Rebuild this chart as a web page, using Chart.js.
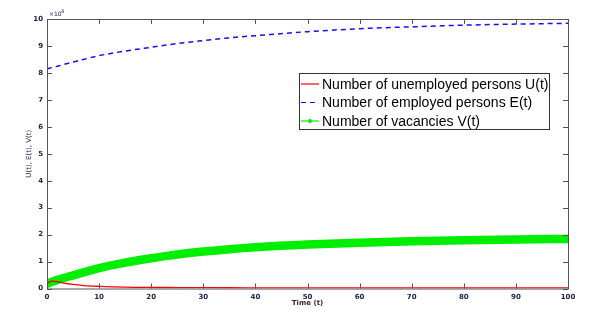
<!DOCTYPE html>
<html><head><meta charset="utf-8">
<script src="https://cdn.jsdelivr.net/npm/chart.js@4/dist/chart.umd.min.js"></script>
<style>html,body{margin:0;padding:0;background:#fff}#wrap{width:593px;height:319px}</style>
</head><body><div id="wrap"><canvas id="c" width="593" height="319"></canvas></div>
<script>
const timePoints = [0,1,2,3,5,7,10,15,20,25,30,35,40,50,60,70,80,90,100];
const unemployed = [0.20,0.27,0.25,0.21,0.15,0.11,0.08,0.05,0.04,0.035,0.03,0.027,0.025,0.022,0.02,0.02,0.02,0.02,0.02];
const employed   = [8.15,8.20,8.25,8.30,8.40,8.50,8.64,8.81,8.95,9.09,9.20,9.30,9.38,9.53,9.64,9.71,9.77,9.81,9.84];
const vacancies  = [0.17,0.25,0.32,0.38,0.49,0.60,0.76,0.96,1.12,1.26,1.37,1.46,1.53,1.63,1.70,1.75,1.79,1.82,1.84];
const xTicks = [0,10,20,30,40,50,60,70,80,90,100];
const yTicks = [0,1,2,3,4,5,6,7,8,9,10];
const labels = ['Number of unemployed persons U(t)','Number of employed persons E(t)','Number of vacancies V(t)'];

const pts = arr => arr.map((v,i)=>({x:timePoints[i], y:v}));
const tickColor = '#22224a';
const tickFont = {family:'DejaVu Sans', size:7, weight:'bold'};

const boxPlugin = {
  id:'box',
  afterDraw(chart){
    const {ctx, chartArea:a, scales:{x,y}} = chart;
    ctx.save();
    ctx.strokeStyle = '#555';
    ctx.lineWidth = 1;
    ctx.strokeRect(a.left+0.5, a.top+0.5, a.right-a.left, a.bottom-a.top);
    ctx.beginPath();
    xTicks.forEach(t=>{
      const px = Math.round(x.getPixelForValue(t))+0.5;
      ctx.moveTo(px,a.bottom); ctx.lineTo(px,a.bottom-5);
      ctx.moveTo(px,a.top); ctx.lineTo(px,a.top+5);
    });
    yTicks.forEach(t=>{
      const py = Math.round(y.getPixelForValue(t))+0.5;
      ctx.moveTo(a.left,py); ctx.lineTo(a.left+5,py);
      ctx.moveTo(a.right,py); ctx.lineTo(a.right-5,py);
    });
    ctx.stroke();
    ctx.fillStyle = tickColor;
    ctx.font = '6px DejaVu Sans';
    ctx.textBaseline = 'alphabetic';
    ctx.fillText('\u00d710', a.left+2, a.top-3);
    ctx.font = '5px DejaVu Sans';
    ctx.fillText('4', a.left+14, a.top-6);
    // legend
    const lx = 299, ly = 73, lw = 250, lh = 56;
    ctx.fillStyle = '#fff';
    ctx.fillRect(lx, ly, lw, lh);
    ctx.strokeStyle = '#333';
    ctx.strokeRect(lx+0.5, ly+0.5, lw, lh);
    const ds = chart.data.datasets;
    ctx.font = '14px "Liberation Sans", Arial';
    ctx.textBaseline = 'middle';
    ds.forEach((d,i)=>{
      const cy = ly + 11 + i*18.5;
      ctx.strokeStyle = d.borderColor;
      ctx.lineWidth = 1.2;
      ctx.setLineDash(d.borderDash || []);
      ctx.beginPath(); ctx.moveTo(lx+2, cy); ctx.lineTo(lx+20, cy); ctx.stroke();
      ctx.setLineDash([]);
      if (i===2){ ctx.fillStyle=d.borderColor; ctx.beginPath(); ctx.arc(lx+11,cy,2,0,Math.PI*2); ctx.fill(); }
      ctx.fillStyle = '#000';
      ctx.fillText(d.label, lx+23, cy+1);
    });
    ctx.restore();
  }
};

new Chart(document.getElementById('c'), {
  type:'line',
  data:{datasets:[
    {label:labels[0], data:pts(unemployed), borderColor:'#ff0000', borderWidth:1.3, pointRadius:0, cubicInterpolationMode:'monotone'},
    {label:labels[1], data:pts(employed), borderColor:'#1010ff', borderWidth:1.5, borderDash:[5,4], pointRadius:0, cubicInterpolationMode:'monotone'},
    {label:labels[2], data:pts(vacancies), borderColor:'#00ee00', borderWidth:8.5, borderCapStyle:'round', pointRadius:0, cubicInterpolationMode:'monotone'}
  ]},
  options:{
    responsive:false, animation:false, devicePixelRatio:1,
    layout:{padding:{top:19, right:25, left:25, bottom:12}},
    plugins:{legend:{display:false}, tooltip:{enabled:false}},
    scales:{
      x:{type:'linear', min:0, max:100,
        afterBuildTicks(s){ s.ticks = xTicks.map(v=>({value:v})); },
        grid:{display:false, drawTicks:false}, border:{display:false},
        ticks:{color:tickColor, font:tickFont, padding:4, maxRotation:0},
        title:{display:true, text:'Time (t)', color:'#3a1a2a', font:{family:'DejaVu Sans', size:7, weight:'bold'}, padding:{top:0,bottom:0}},
        afterFit(s){ s.height = 18.5; }
      },
      y:{min:0, max:10,
        afterBuildTicks(s){ s.ticks = yTicks.map(v=>({value:v})); },
        grid:{display:false, drawTicks:false}, border:{display:false},
        ticks:{color:tickColor, font:tickFont, padding:4},
        title:{display:true, text:'U(t), E(t), V(t)', color:tickColor, font:{family:'DejaVu Sans', size:7}, padding:{top:0,bottom:0}},
        afterFit(s){ s.width = 22; }
      }
    }
  },
  plugins:[boxPlugin]
});
</script></body></html>
